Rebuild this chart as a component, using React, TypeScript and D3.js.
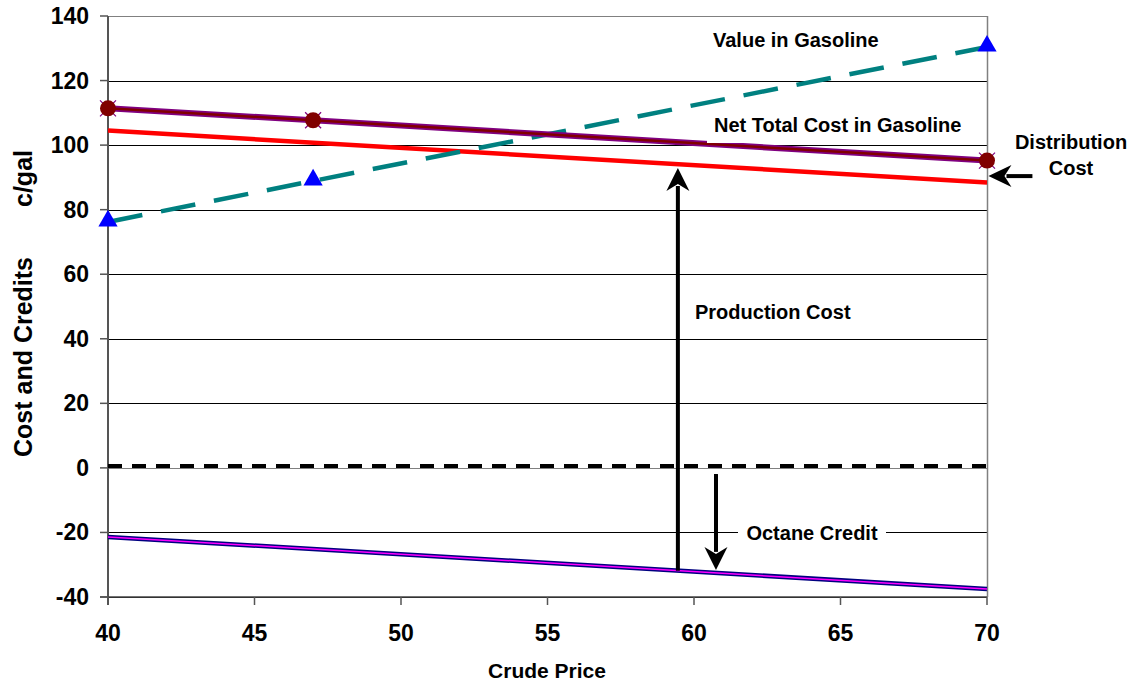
import React from "react";
import * as d3 from "d3";

const crude = [40, 47, 70];
const netTotalCost = [111.4, 107.7, 95.2];
const valueInGasoline = [76.2, 88.9, 130.4];
const productionCostX = [40, 70];
const productionCost = [104.5, 88.4];
const octaneX = [40, 70];
const octaneCredit = [-21.4, -37.5];
const zeroLine = 0.55;
const xTicks = [40, 45, 50, 55, 60, 65, 70];
const yTicks = [-40, -20, 0, 20, 40, 60, 80, 100, 120, 140];

const W = 1137;
const H = 683;
const FONT = "'Liberation Sans', Arial, sans-serif";

export default function App() {
  const x = d3.scaleLinear().domain([40, 70]).range([108, 987]);
  const y = d3.scaleLinear().domain([-40, 140]).range([597, 16]);

  const line = d3
    .line<[number, number]>()
    .x((d) => x(d[0]))
    .y((d) => y(d[1]));

  const netPts = crude.map((c, i) => [c, netTotalCost[i]] as [number, number]);
  const valPts = crude.map((c, i) => [c, valueInGasoline[i]] as [number, number]);
  const prodPts = productionCostX.map((c, i) => [c, productionCost[i]] as [number, number]);
  const octPts = octaneX.map((c, i) => [c, octaneCredit[i]] as [number, number]);

  const upHead = (px: number, py: number) =>
    `M${px},${py} L${px + 11.5},${py + 23} L${px},${py + 16} L${px - 11.5},${py + 23} Z`;
  const downHead = (px: number, py: number) =>
    `M${px},${py} L${px + 11.5},${py - 23} L${px},${py - 16} L${px - 11.5},${py - 23} Z`;
  const leftHead = (px: number, py: number) =>
    `M${px},${py} L${px + 23},${py - 11} L${px + 16},${py} L${px + 23},${py + 11} Z`;

  const prodArrowX = x(59.45);
  const prodFrom = y(-31.9);
  const prodTo = y(92.9);
  const octArrowX = x(60.75);
  const octFrom = y(-1.9);
  const octTo = y(-31.6);
  const distY = y(90.4);
  const distFrom = x(71.55);
  const distTo = x(70.05);

  const tri = d3.symbol().type(d3.symbolTriangle).size(160)();

  return (
    <svg
      width={W}
      height={H}
      style={{ position: "absolute", left: 0, top: 0, background: "#fff" }}
      fontFamily={FONT}
      fontWeight="bold"
    >
      {yTicks.map((t) => (
        <line
          key={"g" + t}
          x1={x(40)}
          x2={x(70)}
          y1={Math.round(y(t)) + 0.5}
          y2={Math.round(y(t)) + 0.5}
          stroke={t === 140 || t === 0 ? "#808080" : "#000"}
          strokeWidth={1}
        />
      ))}
      <line x1={x(70) + 0.5} x2={x(70) + 0.5} y1={y(140)} y2={y(-40)} stroke="#808080" strokeWidth={1.5} />
      <line x1={x(40)} x2={x(40)} y1={y(140)} y2={y(-40) + 8} stroke="#555" strokeWidth={2} />
      <line x1={x(40) - 8} x2={x(70)} y1={y(-40)} y2={y(-40)} stroke="#444" strokeWidth={1.5} />
      {yTicks.map((t) => (
        <g key={"yt" + t}>
          <line x1={x(40) - 8} x2={x(40)} y1={y(t)} y2={y(t)} stroke="#555" strokeWidth={1.5} />
          <text x={89} y={y(t) + 8} textAnchor="end" fontSize={23} fill="#000">
            {t}
          </text>
        </g>
      ))}
      {xTicks.map((t) => (
        <g key={"xt" + t}>
          <line x1={x(t)} x2={x(t)} y1={y(-40)} y2={y(-40) + 8} stroke="#555" strokeWidth={1.5} />
          <text x={x(t)} y={641} textAnchor="middle" fontSize={23} fill="#000">
            {t}
          </text>
        </g>
      ))}

      <line
        x1={x(40)}
        x2={x(70)}
        y1={y(zeroLine)}
        y2={y(zeroLine)}
        stroke="#000"
        strokeWidth={4}
        strokeDasharray="14 10"
      />

      <path d={line(prodPts) || ""} fill="none" stroke="#ff0000" strokeWidth={4.5} />

      <path d={line(octPts) || ""} fill="none" stroke="#000080" strokeWidth={4.5} />
      <path d={line(octPts) || ""} fill="none" stroke="#ff00ff" strokeWidth={1.5} />

      <path
        d={line(valPts) || ""}
        fill="none"
        stroke="#008080"
        strokeWidth={4.5}
        strokeDasharray="35 19"
      />

      <path d={line(netPts) || ""} fill="none" stroke="#800080" strokeWidth={6} />
      <path d={line(netPts) || ""} fill="none" stroke="#800000" strokeWidth={2.5} />

      <rect x={707} y={108} width={277} height={35} fill="#fff" />
      <text x={714} y={132} fontSize={20} fill="#000">
        Net Total Cost in Gasoline
      </text>

      {netPts.map((p, i) => (
        <g key={"nm" + i} transform={`translate(${x(p[0])},${y(p[1])})`}>
          <path d="M-8,-8 L8,8 M-8,8 L8,-8" stroke="#800080" strokeWidth={1.2} />
          <circle r={8} fill="#800000" />
        </g>
      ))}

      {valPts.map((p, i) => (
        <path
          key={"tm" + i}
          d={tri || ""}
          transform={`translate(${x(p[0])},${y(p[1]) - 1})`}
          fill="#0000ff"
        />
      ))}

      <line x1={prodArrowX} x2={prodArrowX} y1={prodFrom} y2={prodTo + 18} stroke="#000" strokeWidth={4} />
      <path d={upHead(prodArrowX, prodTo)} fill="#000" />
      <line x1={octArrowX} x2={octArrowX} y1={octFrom} y2={octTo - 18} stroke="#000" strokeWidth={4} />
      <path d={downHead(octArrowX, octTo)} fill="#000" />
      <line x1={distFrom} x2={distTo + 18} y1={distY} y2={distY} stroke="#000" strokeWidth={4} />
      <path d={leftHead(distTo, distY)} fill="#000" />

      <text x={713} y={47} fontSize={20} fill="#000">
        Value in Gasoline
      </text>
      <text x={695} y={319} fontSize={20} fill="#000">
        Production Cost
      </text>
      <rect x={738} y={520} width={148} height={28} fill="#fff" />
      <text x={812} y={540} fontSize={20} textAnchor="middle" fill="#000">
        Octane Credit
      </text>
      <text x={1071} y={149} fontSize={20} textAnchor="middle" fill="#000">
        Distribution
      </text>
      <text x={1071} y={175} fontSize={20} textAnchor="middle" fill="#000">
        Cost
      </text>

      <text x={547} y={678} fontSize={21} textAnchor="middle" fill="#000">
        Crude Price
      </text>
      <text transform="translate(32,457) rotate(-90)" fontSize={25} textAnchor="start" fill="#000">
        Cost and Credits
      </text>
      <text transform="translate(32,150) rotate(-90)" fontSize={25} textAnchor="end" fill="#000">
        c/gal
      </text>
    </svg>
  );
}
